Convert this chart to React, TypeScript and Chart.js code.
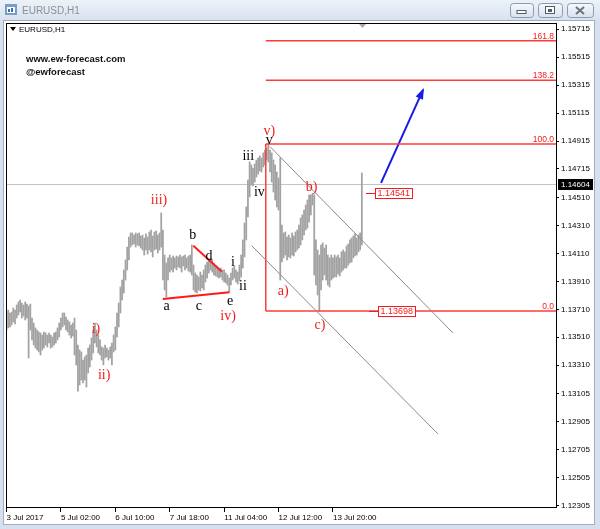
import React, { useEffect, useRef } from "react";
import { Chart, registerables } from "chart.js";

Chart.register(...registerables);

// EURUSD H1 bars: highs and lows, one entry per hour
const barHigh = [
  1.13691, 1.13705, 1.13684, 1.13691, 1.1372, 1.13705, 1.13741, 1.13763, 1.13777, 1.13755,
  1.13741, 1.13763, 1.13748, 1.13734, 1.13748, 1.13648, 1.13612, 1.13577, 1.13562, 1.13548,
  1.13541, 1.13526, 1.13548, 1.13541, 1.13526, 1.13541, 1.13526, 1.13512, 1.13541, 1.13548,
  1.13577, 1.13612, 1.13648, 1.13684, 1.13684, 1.13655, 1.13634, 1.1362, 1.13598, 1.13612,
  1.13648, 1.13562, 1.13455, 1.13419, 1.13405, 1.13347, 1.13369, 1.13383, 1.13433, 1.13455,
  1.13505, 1.13562, 1.13612, 1.13562, 1.13526, 1.13491, 1.13441, 1.13433, 1.13455, 1.13433,
  1.13419, 1.13441, 1.13469, 1.13526, 1.13584, 1.13684, 1.13755, 1.1387, 1.1392, 1.13992,
  1.14063, 1.14156, 1.14228, 1.14257, 1.14257, 1.14242, 1.14257, 1.1425, 1.14257, 1.14235,
  1.14242, 1.14221, 1.1425, 1.14228, 1.14264, 1.14278, 1.14235, 1.14264, 1.14271, 1.14242,
  1.14257, 1.144, 1.14278, 1.14099, 1.14042, 1.14078, 1.14099, 1.14078, 1.14092, 1.14078,
  1.14092, 1.14085, 1.14099, 1.14085, 1.14092, 1.14099, 1.14078, 1.14092, 1.14099, 1.14171,
  1.14027, 1.1397, 1.13956, 1.13942, 1.13977, 1.13956, 1.13992, 1.14027, 1.14049, 1.14063,
  1.14078, 1.14063, 1.14042, 1.14027, 1.1402, 1.14006, 1.14006, 1.13992, 1.13992, 1.1397,
  1.13956, 1.13934, 1.1397, 1.14006, 1.1402, 1.13992, 1.13977, 1.14027, 1.14099, 1.14207,
  1.14328, 1.14443, 1.14636, 1.14765, 1.14744, 1.14722, 1.14751, 1.14779, 1.14794, 1.14808,
  1.14794, 1.1483, 1.14851, 1.14865, 1.14894, 1.14851, 1.1483, 1.14779, 1.14744, 1.14693,
  1.14651, 1.14794, 1.14314, 1.14257, 1.14264, 1.14228, 1.14242, 1.14221, 1.14257, 1.14235,
  1.14264, 1.14278, 1.14314, 1.14364, 1.14386, 1.14421, 1.14457, 1.14493, 1.14529, 1.14529,
  1.14541, 1.14529, 1.14207, 1.14135, 1.14099, 1.14171, 1.14185, 1.14149, 1.14171, 1.14099,
  1.14078, 1.14099, 1.14078, 1.14099, 1.14085, 1.14099, 1.14078, 1.14121, 1.14135, 1.14121,
  1.14164, 1.14178, 1.14207, 1.14221, 1.14235, 1.1425, 1.14221, 1.14242, 1.14257, 1.14686,
];

const barLow = [
  1.13562, 1.13577, 1.13584, 1.13598, 1.1362, 1.13605, 1.13648, 1.1367, 1.13691, 1.13648,
  1.13662, 1.13634, 1.13648, 1.13362, 1.13562, 1.13491, 1.13455, 1.13433, 1.13419, 1.13405,
  1.13383, 1.13419, 1.13433, 1.13455, 1.13441, 1.13469, 1.13433, 1.13441, 1.13455, 1.13469,
  1.13491, 1.13512, 1.13562, 1.13584, 1.13598, 1.13562, 1.13548, 1.13526, 1.13505, 1.13519,
  1.13383, 1.13312, 1.13125, 1.13168, 1.13204, 1.13183, 1.13204, 1.13154, 1.13254, 1.13297,
  1.13347, 1.13398, 1.13469, 1.13441, 1.13398, 1.13383, 1.13347, 1.13312, 1.13362, 1.13369,
  1.13347, 1.13362, 1.13312, 1.13405, 1.13419, 1.13512, 1.13584, 1.13684, 1.13777, 1.13827,
  1.1392, 1.13992, 1.14063, 1.14156, 1.14171, 1.14178, 1.14156, 1.14171, 1.14164, 1.14149,
  1.14135, 1.14099, 1.14135, 1.14106, 1.14135, 1.14121, 1.14085, 1.14135, 1.14142, 1.14113,
  1.14135, 1.14156, 1.1392, 1.13849, 1.13798, 1.1392, 1.13977, 1.13992, 1.13977, 1.14006,
  1.13992, 1.14013, 1.14006, 1.13977, 1.1402, 1.13992, 1.14006, 1.13985, 1.13977, 1.13956,
  1.13849, 1.13834, 1.13827, 1.13849, 1.13841, 1.13863, 1.13849, 1.13906, 1.13934, 1.1397,
  1.13992, 1.13977, 1.13956, 1.13949, 1.13942, 1.13934, 1.13942, 1.1392, 1.13906, 1.13899,
  1.13884, 1.13834, 1.13884, 1.1392, 1.13934, 1.13906, 1.13891, 1.13913, 1.13942, 1.14006,
  1.14085, 1.14207, 1.14371, 1.14515, 1.146, 1.14593, 1.14622, 1.14658, 1.14679, 1.14701,
  1.14693, 1.14729, 1.14744, 1.14779, 1.14765, 1.14693, 1.14622, 1.1455, 1.14493, 1.14443,
  1.14421, 1.1392, 1.14049, 1.14078, 1.14099, 1.14063, 1.14085, 1.14078, 1.14099, 1.14092,
  1.14121, 1.14135, 1.14149, 1.14171, 1.14207, 1.14242, 1.14278, 1.14292, 1.14335, 1.14386,
  1.14457, 1.13956, 1.13884, 1.13813, 1.13698, 1.13849, 1.1392, 1.13956, 1.1392, 1.13884,
  1.1387, 1.1392, 1.13934, 1.13942, 1.13942, 1.13963, 1.13949, 1.13977, 1.13992, 1.14006,
  1.14006, 1.14027, 1.14042, 1.14049, 1.14078, 1.14092, 1.14099, 1.14121, 1.14135, 1.14171,
];

// time axis: bar index of each label and its text
const timeTickIndex = [0, 32, 64, 96, 128, 160, 192];
const timeTickLabels = [
  "3 Jul 2017",
  "5 Jul 02:00",
  "6 Jul 10:00",
  "7 Jul 18:00",
  "11 Jul 04:00",
  "12 Jul 12:00",
  "13 Jul 20:00",
];

// price axis labels
const priceTicks = [
  1.15715, 1.15515, 1.15315, 1.15115, 1.14915, 1.14715, 1.1451, 1.1431, 1.1411,
  1.1391, 1.1371, 1.1351, 1.1331, 1.13105, 1.12905, 1.12705, 1.12505, 1.12305,
];

const lastPrice = 1.14604;
const xMin = -0.3;
const xMax = 323.2;
const yMin = 1.12295;
const yMax = 1.1576;

// Fibonacci extension from the c) low to the v) high
const fibBase = 1.13698;
const fibTop = 1.14894;
const fibLevels = [0, 100, 138.2, 161.8];
const fibStartIndex = 152.5;

// marked price levels with their leader anchors
const tagPrices = [1.14541, 1.13698];
const tagIndex = [211.5, 213.2];

// Elliott wave counts
const waveText = ["i)", "ii)", "iii)", "iv)", "v)", "a)", "b)", "c)", "a", "b", "c", "d", "e", "i", "ii", "iii", "iv", "v"];
const waveIndex = [52.6, 57.4, 89.7, 130.3, 154.6, 162.8, 179.5, 184.4, 94.2, 109.5, 113.2, 119.1, 131.5, 133.2, 139.1, 142.2, 148.7, 154.6];
const wavePrice = [1.13569, 1.1324, 1.14493, 1.13662, 1.14982, 1.13836, 1.14584, 1.13598, 1.13729, 1.14242, 1.13729, 1.14087, 1.13765, 1.14046, 1.13877, 1.14803, 1.1455, 1.14918];
const waveIsMajor = [true, true, true, true, true, true, true, true, false, false, false, false, false, false, false, false, false, false];

// trend lines
const triangleLower = [{ x: 91.9, y: 1.13784 }, { x: 131.1, y: 1.13832 }];
const triangleUpper = [{ x: 109.9, y: 1.14166 }, { x: 126.6, y: 1.1398 }];
const channelUpper = [{ x: 155, y: 1.14875 }, { x: 262.6, y: 1.13541 }];
const channelLower = [{ x: 144.2, y: 1.14166 }, { x: 253.8, y: 1.12818 }];
const projection = [{ x: 220.3, y: 1.14615 }, { x: 245, y: 1.15281 }];

const RED = "#f21c1c";
const SANS = '"Liberation Sans", Arial, sans-serif';
const SERIF = '"Liberation Serif", "Times New Roman", serif';

function fibPrice(level: number) {
  return fibBase + ((fibTop - fibBase) * level) / 100;
}

function lineSet(points: { x: number; y: number }[], color: string, width: number) {
  return {
    type: "line" as const,
    data: points,
    borderColor: color,
    borderWidth: width,
    pointRadius: 0,
    fill: false,
    tension: 0,
    order: 0,
  };
}

function drawButton(ctx: CanvasRenderingContext2D, x: number, y: number, w: number, h: number, kind: string) {
  const g = ctx.createLinearGradient(0, y, 0, y + h);
  g.addColorStop(0, "#f7f9fc");
  g.addColorStop(1, "#dbe3ee");
  ctx.fillStyle = g;
  ctx.strokeStyle = "#8d9aae";
  ctx.lineWidth = 1;
  ctx.beginPath();
  ctx.roundRect(x + 0.5, y + 0.5, w, h, 3);
  ctx.fill();
  ctx.stroke();
  const cx = x + w / 2;
  const cy = y + h / 2;
  ctx.strokeStyle = "#555c66";
  ctx.fillStyle = "#ffffff";
  if (kind === "min") {
    ctx.fillRect(cx - 4, cy, 8, 3);
    ctx.strokeRect(cx - 4.5, cy + 0.5, 9, 3);
  } else if (kind === "max") {
    ctx.fillRect(cx - 4, cy - 3, 8, 7);
    ctx.strokeRect(cx - 4.5, cy - 3.5, 9, 7);
    ctx.fillStyle = "#555c66";
    ctx.fillRect(cx - 2, cy - 1, 4, 3);
  } else {
    ctx.lineWidth = 2;
    ctx.strokeStyle = "#6b7380";
    ctx.beginPath();
    ctx.moveTo(cx - 4, cy - 3);
    ctx.lineTo(cx + 4, cy + 4);
    ctx.moveTo(cx + 4, cy - 3);
    ctx.lineTo(cx - 4, cy + 4);
    ctx.stroke();
  }
}

const terminalFrame = {
  id: "terminalFrame",
  beforeDraw(chart: any) {
    const { ctx, width, height } = chart;
    ctx.save();
    ctx.fillStyle = "#d5e1f0";
    ctx.fillRect(0, 0, width, height);
    const g = ctx.createLinearGradient(0, 0, 0, 21);
    g.addColorStop(0, "#edf2f9");
    g.addColorStop(1, "#d7e1ee");
    ctx.fillStyle = g;
    ctx.fillRect(0, 0, width, 21);
    ctx.fillStyle = "#ffffff";
    ctx.fillRect(4, 21, width - 10, height - 25);
    ctx.strokeStyle = "#a3aebd";
    ctx.lineWidth = 1;
    ctx.strokeRect(3.5, 20.5, width - 9, height - 25);

    // window icon
    ctx.fillStyle = "#7c9cc8";
    ctx.fillRect(5, 4, 12, 11);
    ctx.fillStyle = "#ffffff";
    ctx.fillRect(7, 7, 8, 6);
    ctx.fillStyle = "#3a6fb5";
    ctx.fillRect(8, 9, 2, 3);
    ctx.fillRect(11, 8, 2, 4);

    ctx.fillStyle = "#8a8f96";
    ctx.font = `10px ${SANS}`;
    ctx.textBaseline = "middle";
    ctx.textAlign = "left";
    ctx.fillText("EURUSD,H1", 22, 11);

    drawButton(ctx, 510, 3, 23, 14, "min");
    drawButton(ctx, 538, 3, 24, 14, "max");
    drawButton(ctx, 567, 3, 26, 14, "close");
    ctx.restore();
  },
  beforeDatasetsDraw(chart: any) {
    const { ctx, chartArea, scales } = chart;
    const y = Math.round(scales.y.getPixelForValue(lastPrice)) + 0.5;
    ctx.save();
    ctx.strokeStyle = "#c4c4c4";
    ctx.lineWidth = 1;
    ctx.beginPath();
    ctx.moveTo(chartArea.left, y);
    ctx.lineTo(chartArea.right, y);
    ctx.stroke();
    ctx.restore();
  },
  afterDatasetsDraw(chart: any) {
    const { ctx, chartArea, scales } = chart;
    const xs = scales.x;
    const ys = scales.y;
    ctx.save();

    // arrow head on the projection
    const x0 = xs.getPixelForValue(projection[0].x);
    const y0 = ys.getPixelForValue(projection[0].y);
    const x1 = xs.getPixelForValue(projection[1].x);
    const y1 = ys.getPixelForValue(projection[1].y);
    const ang = Math.atan2(y1 - y0, x1 - x0);
    ctx.fillStyle = "#1a1ae6";
    ctx.beginPath();
    ctx.moveTo(x1 + 2 * Math.cos(ang), y1 + 2 * Math.sin(ang));
    ctx.lineTo(x1 - 9 * Math.cos(ang) + 4 * Math.sin(ang), y1 - 9 * Math.sin(ang) - 4 * Math.cos(ang));
    ctx.lineTo(x1 - 9 * Math.cos(ang) - 4 * Math.sin(ang), y1 - 9 * Math.sin(ang) + 4 * Math.cos(ang));
    ctx.closePath();
    ctx.fill();

    // fibonacci level captions
    ctx.font = `8.5px ${SANS}`;
    ctx.fillStyle = RED;
    ctx.textAlign = "right";
    ctx.textBaseline = "alphabetic";
    fibLevels.forEach((lv) => {
      const y = ys.getPixelForValue(fibPrice(lv));
      ctx.fillText(lv.toFixed(1), chartArea.right - 2, y - 2);
    });

    // price tags
    ctx.font = `9px ${SANS}`;
    ctx.textAlign = "left";
    ctx.textBaseline = "middle";
    tagPrices.forEach((p, i) => {
      const y = Math.round(ys.getPixelForValue(p)) + 0.5;
      const x = Math.round(xs.getPixelForValue(tagIndex[i]));
      const txt = p.toFixed(5);
      const w = Math.ceil(ctx.measureText(txt).width) + 4;
      ctx.strokeStyle = RED;
      ctx.lineWidth = 1;
      ctx.beginPath();
      ctx.moveTo(x, y);
      ctx.lineTo(x + 9, y);
      ctx.stroke();
      ctx.fillStyle = "#ffffff";
      ctx.fillRect(x + 9.5, y - 5, w, 10);
      ctx.strokeRect(x + 9.5, y - 5, w, 10);
      ctx.fillStyle = RED;
      ctx.fillText(txt, x + 11.5, y + 0.5);
    });

    // wave labels
    ctx.font = `14px ${SERIF}`;
    ctx.textAlign = "center";
    ctx.textBaseline = "middle";
    waveText.forEach((t, i) => {
      ctx.fillStyle = waveIsMajor[i] ? RED : "#000000";
      ctx.fillText(t, xs.getPixelForValue(waveIndex[i]), ys.getPixelForValue(wavePrice[i]));
    });
    ctx.restore();
  },
  afterDraw(chart: any) {
    const { ctx, chartArea, scales } = chart;
    ctx.save();
    ctx.strokeStyle = "#000000";
    ctx.lineWidth = 1;
    ctx.strokeRect(chartArea.left + 0.5, chartArea.top + 0.5, chartArea.right - chartArea.left, chartArea.bottom - chartArea.top);

    // symbol caption
    ctx.fillStyle = "#000000";
    ctx.beginPath();
    ctx.moveTo(chartArea.left + 4, chartArea.top + 4);
    ctx.lineTo(chartArea.left + 10, chartArea.top + 4);
    ctx.lineTo(chartArea.left + 7, chartArea.top + 8);
    ctx.closePath();
    ctx.fill();
    ctx.font = `8px ${SANS}`;
    ctx.textAlign = "left";
    ctx.textBaseline = "middle";
    ctx.fillText("EURUSD,H1", chartArea.left + 13, chartArea.top + 6.5);

    // chart shift marker
    ctx.fillStyle = "#a8a8a8";
    ctx.beginPath();
    ctx.moveTo(359, chartArea.top + 1);
    ctx.lineTo(366, chartArea.top + 1);
    ctx.lineTo(362.5, chartArea.top + 5);
    ctx.closePath();
    ctx.fill();

    // site caption
    ctx.fillStyle = "#111111";
    ctx.font = `bold 9.5px ${SANS}`;
    ctx.fillText("www.ew-forecast.com", 26, 59);
    ctx.fillText("@ewforecast", 26, 72);

    // last price box
    const y = Math.round(scales.y.getPixelForValue(lastPrice));
    ctx.fillStyle = "#000000";
    ctx.fillRect(chartArea.right + 2, y - 5, 35, 11);
    ctx.fillStyle = "#ffffff";
    ctx.font = `8px ${SANS}`;
    ctx.fillText(lastPrice.toFixed(5), chartArea.right + 5, y + 0.5);
    ctx.restore();
  },
};

export default function App() {
  const ref = useRef<HTMLCanvasElement>(null);

  useEffect(() => {
    if (!ref.current) return;
    const bars = barHigh.map((h, i) => ({ x: i, y: [barLow[i], h] }));
    const fibSets = fibLevels.map((lv) =>
      lineSet([{ x: fibStartIndex, y: fibPrice(lv) }, { x: xMax, y: fibPrice(lv) }], "#ff3b3b", 1.5)
    );
    const chart = new Chart(ref.current, {
      type: "bar",
      data: {
        datasets: [
          {
            type: "bar",
            data: bars as any,
            backgroundColor: "#a2a2a2",
            borderWidth: 0,
            barThickness: 1.1,
            order: 1,
          },
          lineSet(channelUpper, "#8a8a8a", 1),
          lineSet(channelLower, "#8a8a8a", 1),
          lineSet(triangleLower, "#ff1a1a", 2),
          lineSet(triangleUpper, "#ff1a1a", 2),
          ...fibSets,
          lineSet([{ x: fibStartIndex, y: fibBase }, { x: fibStartIndex, y: fibTop }], "#ff3b3b", 1.5),
          lineSet(projection, "#1a1ae6", 2),
        ] as any,
      },
      options: {
        responsive: false,
        animation: false,
        events: [],
        layout: { padding: { left: 6, top: 23, right: 0, bottom: 0 } },
        plugins: { legend: { display: false }, tooltip: { enabled: false } },
        scales: {
          x: {
            type: "linear",
            min: xMin,
            max: xMax,
            offset: false,
            border: { display: false },
            grid: { drawOnChartArea: false, drawTicks: true, tickLength: 5, tickColor: "#000000", offset: false },
            afterBuildTicks: (scale: any) => {
              scale.ticks = timeTickIndex.map((v) => ({ value: v }));
            },
            afterFit: (scale: any) => {
              scale.height = 22;
            },
            ticks: {
              autoSkip: false,
              maxRotation: 0,
              minRotation: 0,
              align: "start",
              padding: 1,
              color: "#000000",
              font: { family: SANS, size: 8 },
              callback: (v: any) => {
                const k = timeTickIndex.indexOf(Number(v));
                return k >= 0 ? timeTickLabels[k] : "";
              },
            },
          },
          y: {
            type: "linear",
            position: "right",
            min: yMin,
            max: yMax,
            border: { display: false },
            grid: { drawOnChartArea: false, drawTicks: true, tickLength: 3, tickColor: "#000000" },
            afterBuildTicks: (scale: any) => {
              scale.ticks = priceTicks.map((v) => ({ value: v }));
            },
            afterFit: (scale: any) => {
              scale.width = 44;
            },
            ticks: {
              autoSkip: false,
              padding: 2,
              color: "#000000",
              font: { family: SANS, size: 8 },
              callback: (v: any) => Number(v).toFixed(5),
            },
          },
        },
      } as any,
      plugins: [terminalFrame],
    });
    return () => chart.destroy();
  }, []);

  return (
    <div style={{ position: "absolute", left: 0, top: 0, width: 600, height: 529 }}>
      <canvas ref={ref} width={600} height={529} style={{ display: "block" }} />
    </div>
  );
}
